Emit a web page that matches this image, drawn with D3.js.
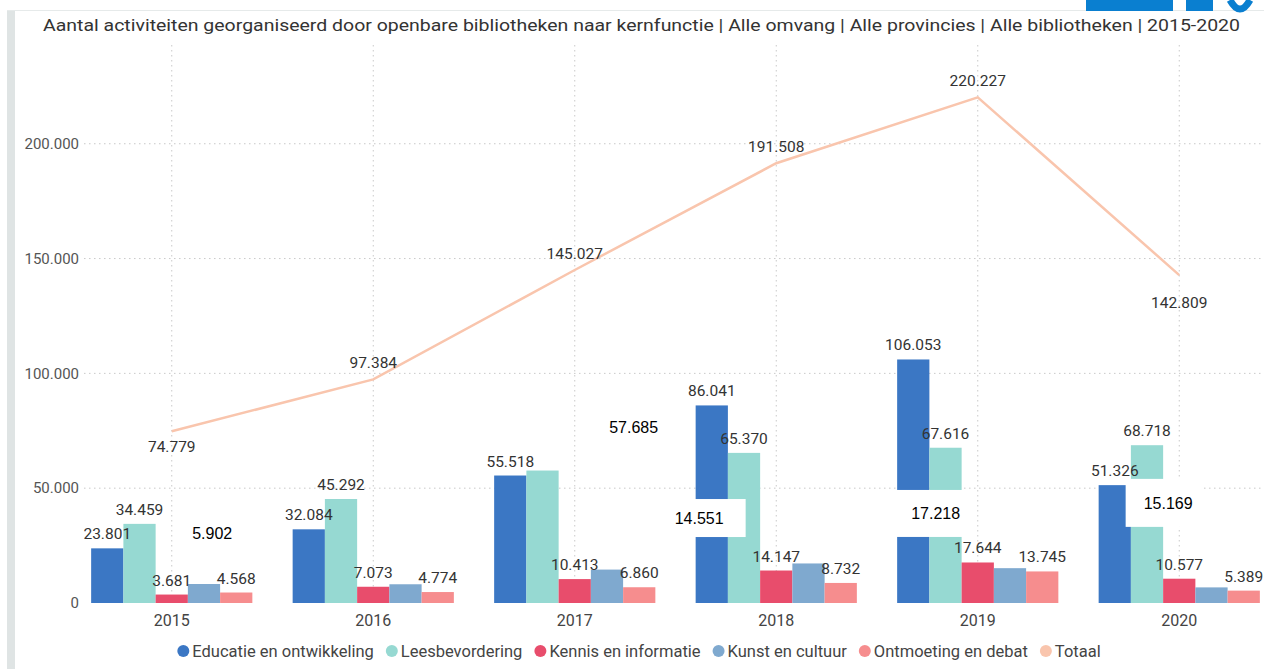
<!DOCTYPE html>
<html>
<head>
<meta charset="utf-8">
<script src="https://cdn.jsdelivr.net/npm/d3@7"></script>
<style>
	html, body { margin: 0; padding: 0; background: #fff; }
	svg { display: block; }
</style>
</head>
<body>
<svg id="chart" width="1264" height="669"></svg>
<script>
/*global d3 */
(function () {
	'use strict';

	// Data
	var years = ['2015', '2016', '2017', '2018', '2019', '2020'];
	var seriesNames = ['Educatie en ontwikkeling', 'Leesbevordering', 'Kennis en informatie', 'Kunst en cultuur', 'Ontmoeting en debat'];
	var educatie = [23801, 32084, 55518, 86041, 106053, 51326];
	var leesbevordering = [34459, 45292, 57685, 65370, 67616, 68718];
	var kennis = [3681, 7073, 10413, 14147, 17644, 10577];
	var kunst = [8270, 8161, 14551, 17218, 15169, 6799];
	var ontmoeting = [4568, 4774, 6860, 8732, 13745, 5389];
	var totaal = [74779, 97384, 145027, 191508, 220227, 142809];
	var yTicks = [0, 50000, 100000, 150000, 200000];
	// loose labels that were pasted over the chart
	var noteTexts = ['5.902', '57.685', '14.551', '17.218', '15.169'];
	var noteYears = ['2015', '2017', '2018', '2019', '2020'];
	var noteValues = [30500, 76700, 37000, 39000, 43600];

	var titleText = 'Aantal activiteiten georganiseerd door openbare bibliotheken naar kernfunctie | Alle omvang | Alle provincies | Alle bibliotheken | 2015-2020';
	var colors = ['#3b77c4', '#96d9d2', '#e84d6c', '#7fa9cf', '#f68d8e'];
	var lineColor = '#f9c5ad';
	var font = 'Roboto, "DejaVu Sans", sans-serif';

	var svg, x0, x1, y, nl, fmt, rows, grid, bars, line, lineLabelDy, legend,
		legendX, legendItems, notes, noteLayout, hideLabel, toItems;

	nl = d3.formatLocale({ decimal: ',', thousands: '.', grouping: [3], currency: ['€', ''] });
	fmt = nl.format(',d');

	svg = d3.select('#chart');

	// frame bits: grey strip left, thin line on top, logo top right
	svg.append('rect').attr('x', 7).attr('y', 11).attr('width', 8).attr('height', 658).attr('fill', '#dfe4e4');
	svg.append('rect').attr('x', 7).attr('y', 10).attr('width', 1257).attr('height', 1).attr('fill', '#e6eaea');
	svg.append('rect').attr('x', 1086).attr('y', 0).attr('width', 87).attr('height', 11).attr('fill', '#0a7fd0');
	svg.append('rect').attr('x', 1186).attr('y', 0).attr('width', 27).attr('height', 11).attr('fill', '#0a7fd0');
	svg.append('path').attr('d', 'M1230,0 Q1240,18 1250,0').attr('fill', 'none')
		.attr('stroke', '#0a7fd0').attr('stroke-width', 7);

	svg.append('text')
		.attr('x', 43).attr('y', 31)
		.attr('font-family', font).attr('font-size', 17).attr('fill', '#333')
		.attr('textLength', 1197).attr('lengthAdjust', 'spacingAndGlyphs')
		.text(titleText);

	// scales
	x0 = d3.scaleBand().domain(years).range([71, 1280]).paddingInner(0.2).paddingOuter(0.1);
	x1 = d3.scaleBand().domain(seriesNames).range([0, x0.bandwidth()]);
	y = d3.scaleLinear().domain([0, 243000]).range([603, 45]);

	rows = years.map(function (yr, i) {
		return {
			year: yr,
			values: [educatie[i], leesbevordering[i], kennis[i], kunst[i], ontmoeting[i]]
		};
	});

	// gridlines
	grid = svg.append('g').attr('stroke', '#c9c9c9').attr('stroke-dasharray', '1.5,3.5');
	grid.selectAll('line.h').data(yTicks.slice(1)).enter().append('line')
		.attr('class', 'h')
		.attr('x1', 84).attr('x2', 1264)
		.attr('y1', function (d) { return y(d); })
		.attr('y2', function (d) { return y(d); });
	grid.selectAll('line.v').data(years).enter().append('line')
		.attr('class', 'v')
		.attr('x1', function (d) { return x0(d) + x0.bandwidth() / 2; })
		.attr('x2', function (d) { return x0(d) + x0.bandwidth() / 2; })
		.attr('y1', 45).attr('y2', 603);

	// axes
	svg.append('g')
		.attr('transform', 'translate(82,0)')
		.call(d3.axisLeft(y).tickValues(yTicks).tickSize(0).tickPadding(3).tickFormat(fmt))
		.call(function (g) {
			g.select('.domain').remove();
			g.selectAll('text').attr('font-family', font).attr('font-size', 15).attr('fill', '#555');
		});

	svg.append('g')
		.attr('transform', 'translate(0,603)')
		.call(d3.axisBottom(x0).tickSize(0).tickPadding(12))
		.call(function (g) {
			g.select('.domain').remove();
			g.selectAll('text').attr('font-family', font).attr('font-size', 16).attr('fill', '#444');
		});

	// bars
	toItems = function (d) {
		return d.values.map(function (v, i) { return { year: d.year, name: seriesNames[i], value: v, idx: i }; });
	};

	bars = svg.append('g').selectAll('g').data(rows).enter().append('g')
		.attr('transform', function (d) { return 'translate(' + x0(d.year) + ',0)'; });

	bars.selectAll('rect').data(toItems).enter().append('rect')
		.attr('x', function (d) { return x1(d.name); })
		.attr('width', x1.bandwidth())
		.attr('y', function (d) { return y(d.value); })
		.attr('height', function (d) { return y(0) - y(d.value); })
		.attr('fill', function (d) { return colors[d.idx]; });

	// some data labels are not shown in the original
	hideLabel = function (d) {
		return d.name === 'Kunst en cultuur' || (d.year === '2017' && d.name === 'Leesbevordering');
	};

	bars.selectAll('text').data(function (d) {
		return toItems(d).filter(function (it) { return !hideLabel(it); });
	}).enter().append('text')
		.attr('x', function (d) { return x1(d.name) + x1.bandwidth() / 2; })
		.attr('y', function (d) { return y(d.value) - 9; })
		.attr('text-anchor', 'middle')
		.attr('font-family', font).attr('font-size', 15.5).attr('fill', '#333')
		.text(function (d) { return fmt(d.value); });

	// total line
	line = d3.line()
		.x(function (d, i) { return x0(years[i]) + x0.bandwidth() / 2; })
		.y(function (d) { return y(d); });

	svg.append('path')
		.datum(totaal)
		.attr('d', line)
		.attr('fill', 'none')
		.attr('stroke', lineColor)
		.attr('stroke-width', 2.5);

	lineLabelDy = [21, -11, -11, -11, -11, 33];
	svg.append('g').selectAll('text').data(totaal).enter().append('text')
		.attr('x', function (d, i) { return x0(years[i]) + x0.bandwidth() / 2; })
		.attr('y', function (d, i) { return y(d) + lineLabelDy[i]; })
		.attr('text-anchor', 'middle')
		.attr('font-family', font).attr('font-size', 15.5).attr('fill', '#333')
		.text(function (d) { return fmt(d); });

	// pasted notes: [text offset from band start, box left, box width, box height]
	noteLayout = [
		[101, 0, 0, 0],
		[115, 0, 0, 0],
		[-21, -23, 73, 38],
		[14, -7, 74, 47],
		[45, 27, 76, 48]
	];
	notes = svg.append('g').selectAll('g').data(noteTexts).enter().append('g')
		.attr('transform', function (d, i) {
			return 'translate(' + x0(noteYears[i]) + ',' + y(noteValues[i]) + ')';
		});
	notes.each(function (d, i) {
		var g = d3.select(this), lay = noteLayout[i];
		if (lay[2] > 0) {
			g.append('rect')
				.attr('x', lay[1]).attr('y', -lay[3] / 2)
				.attr('width', lay[2]).attr('height', lay[3])
				.attr('fill', '#fff');
		}
		g.append('text')
			.attr('x', lay[0])
			.attr('y', 6)
			.attr('font-family', '"Liberation Sans", Arial, sans-serif')
			.attr('font-size', 16).attr('fill', '#000')
			.text(d);
	});

	// legend
	legendItems = seriesNames.concat(['Totaal']);
	legend = svg.append('g').attr('transform', 'translate(0,651)');
	legendX = 0;
	legendItems.forEach(function (name, i) {
		var item = legend.append('g').attr('transform', 'translate(' + legendX + ',0)'),
			label;
		item.append('circle').attr('cx', 6).attr('cy', 0).attr('r', 6)
			.attr('fill', i < colors.length ? colors[i] : lineColor);
		label = item.append('text').attr('x', 15).attr('y', 5.5)
			.attr('font-family', font).attr('font-size', 16.5).attr('fill', '#444')
			.text(name);
		legendX += 15 + label.node().getComputedTextLength() + 12;
	});
	legend.attr('transform', 'translate(' + (639 - (legendX - 12) / 2) + ',651)');
}());
</script>
</body>
</html>
